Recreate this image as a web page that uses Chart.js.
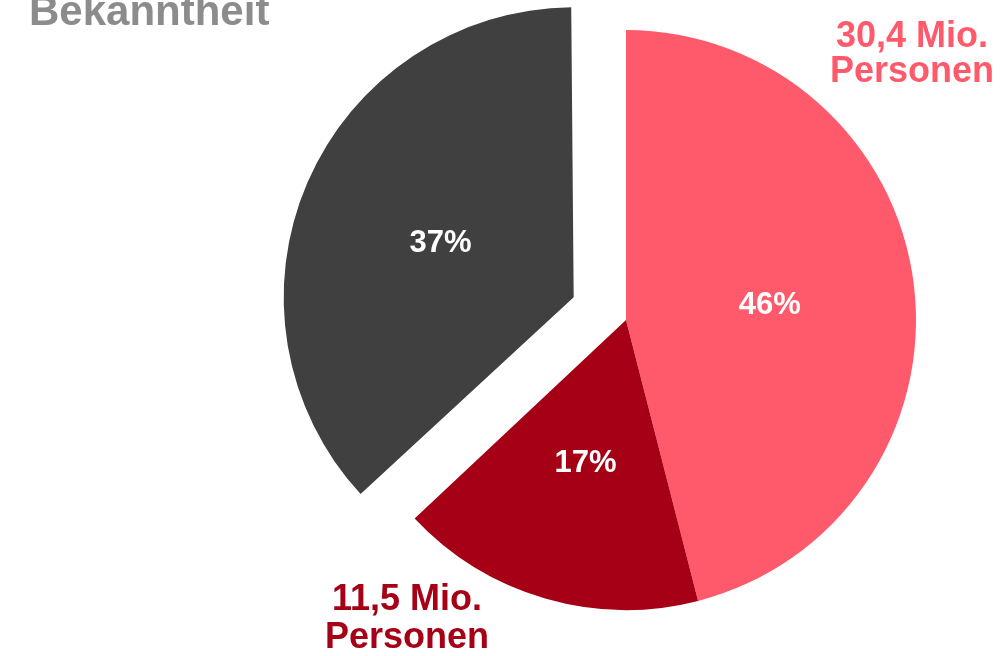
<!DOCTYPE html>
<html>
<head>
<meta charset="utf-8">
<script src="https://cdn.jsdelivr.net/npm/chart.js@4"></script>
<style>
  html, body { margin: 0; padding: 0; background: #fff; overflow: hidden; }
  #wrap { position: relative; width: 1002px; height: 656px; }
  #chart { position: absolute; left: 0; top: 0; }
  .note {
    position: absolute;
    font-family: "Liberation Sans", Arial, sans-serif;
    font-weight: bold;
    text-align: center;
    white-space: nowrap;
  }
</style>
</head>
<body>
<div id="wrap">
  <canvas id="chart" width="1002" height="656"></canvas>
  <div class="note" id="title" style="left:29px; top:-13px; font-size:42px; color:#8C8C8C;">Bekanntheit</div>
  <div class="note" id="notePink" style="left:812px; top:17px; width:200px; font-size:36px; line-height:35px; color:#FF5A6B;">30,4 Mio.<br>Personen</div>
  <div class="note" id="noteRed" style="left:307px; top:579px; width:200px; font-size:36px; line-height:38px; color:#A50016;">11,5 Mio.<br>Personen</div>
</div>
<script>
// pie: share of people by awareness
const categories = ["Bekannt (30,4 Mio.)", "Bekannt (11,5 Mio.)", "Nicht bekannt"]
const shares = [46, 17, 37]
const pctLabels = ["46%", "17%", "37%"]
const colours = ["#FF5A6B", "#A50016", "#404040"]
const explode = [0, 0, 57]   // wanted shift of each slice, px
const RADIUS = 290

// Chart.js arc moves a slice by offset/4 and also grows it by
// offset/4 * (1 - sin(circumference)); undo the growth before drawing
const keepRadius = {
  id: "keepRadius",
  beforeDatasetsDraw(chart) {
    const meta = chart.getDatasetMeta(0)
    meta.data.forEach((arc, i) => {
      const circ = Math.min(Math.PI, arc.endAngle - arc.startAngle)
      const grow = explode[i] * (1 - Math.sin(circ))
      arc.outerRadius = meta.controller.outerRadius - grow
    })
  }
}

// white percentage text in every slice, moved with its slice
const pctPlugin = {
  id: "pctLabels",
  afterDatasetsDraw(chart) {
    const ctx = chart.ctx
    const meta = chart.getDatasetMeta(0)
    const R = meta.controller.outerRadius
    ctx.save()
    ctx.font = "bold 31px 'Liberation Sans', Arial, sans-serif"
    ctx.fillStyle = "#FFFFFF"
    ctx.textAlign = "center"
    ctx.textBaseline = "middle"
    meta.data.forEach((arc, i) => {
      const mid = (arc.startAngle + arc.endAngle) / 2
      const r = R / 2 + explode[i]
      ctx.fillText(pctLabels[i], arc.x + Math.cos(mid) * r, arc.y + Math.sin(mid) * r + 4)
    })
    ctx.restore()
  }
}

new Chart(document.getElementById("chart"), {
  type: "pie",
  data: {
    labels: categories,
    datasets: [{
      data: shares,
      backgroundColor: colours,
      borderWidth: 0,
      offset: explode.map(v => v * 4),
      hoverOffset: 0
    }]
  },
  options: {
    responsive: false,
    animation: false,
    radius: RADIUS,
    layout: { padding: { left: 250, right: 0, top: 0, bottom: 16 } },
    plugins: {
      legend: { display: false },
      tooltip: { enabled: false }
    },
    events: []
  },
  plugins: [keepRadius, pctPlugin]
})
</script>
</body>
</html>
